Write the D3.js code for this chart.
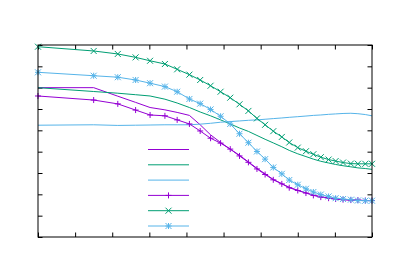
<!DOCTYPE html>
<html><head><meta charset="utf-8">
<script src="https://cdn.jsdelivr.net/npm/d3@7"></script>
<style>html,body{margin:0;padding:0;background:#fff;}svg{display:block;}</style>
</head><body>
<svg id="chart" width="400" height="279"></svg>
<script>
const xValues = [0, 1.5, 2.15, 2.63, 3.02, 3.42, 3.75, 4.08, 4.37, 4.65, 4.92, 5.18, 5.43, 5.67, 5.9, 6.12, 6.34, 6.57, 6.77, 7.0, 7.22, 7.42, 7.62, 7.83, 8.02, 8.22, 8.43, 8.62, 8.82, 9];
const lineA = [7.00, 7.00, 6.60, 6.31, 6.07, 5.96, 5.84, 5.70, 5.26, 4.79, 4.43, 4.12, 3.83, 3.52, 3.22, 2.96, 2.70, 2.50, 2.33, 2.19, 2.07, 1.97, 1.89, 1.83, 1.78, 1.75, 1.74, 1.72, 1.71, 1.70];
const lineB = [7.00, 6.82, 6.74, 6.67, 6.61, 6.46, 6.28, 6.07, 5.86, 5.68, 5.49, 5.30, 5.11, 4.95, 4.76, 4.58, 4.41, 4.23, 4.06, 3.90, 3.77, 3.65, 3.55, 3.47, 3.40, 3.34, 3.29, 3.24, 3.21, 3.17];
const lineC = [5.24, 5.26, 5.23, 5.24, 5.25, 5.26, 5.26, 5.26, 5.29, 5.33, 5.38, 5.41, 5.44, 5.47, 5.49, 5.52, 5.55, 5.58, 5.61, 5.64, 5.67, 5.70, 5.72, 5.75, 5.77, 5.79, 5.80, 5.78, 5.74, 5.68];
const pointsA = [6.61, 6.42, 6.24, 5.95, 5.72, 5.68, 5.49, 5.30, 4.97, 4.63, 4.40, 4.12, 3.80, 3.50, 3.19, 2.93, 2.68, 2.49, 2.31, 2.18, 2.06, 1.95, 1.87, 1.82, 1.78, 1.75, 1.73, 1.73, 1.71, 1.71];
const pointsB = [8.92, 8.72, 8.58, 8.42, 8.26, 8.11, 7.86, 7.61, 7.36, 7.09, 6.81, 6.53, 6.22, 5.91, 5.56, 5.26, 4.96, 4.69, 4.43, 4.19, 4.02, 3.88, 3.74, 3.63, 3.56, 3.49, 3.44, 3.43, 3.43, 3.43];
const pointsC = [7.72, 7.56, 7.49, 7.36, 7.21, 7.05, 6.81, 6.47, 6.25, 5.98, 5.66, 5.30, 4.84, 4.42, 4.01, 3.65, 3.26, 2.96, 2.67, 2.45, 2.26, 2.11, 1.99, 1.90, 1.82, 1.78, 1.75, 1.71, 1.70, 1.70];
const xTicks = [0, 1, 2, 3, 4, 5, 6, 7, 8, 9];
const yTicks = [0, 1, 2, 3, 4, 5, 6, 7, 8, 9];
const seriesNames = ["", "", "", "", "", ""];

const series = [
  {vals: lineA, color: "#9400d3", marker: null},
  {vals: lineB, color: "#009e73", marker: null},
  {vals: lineC, color: "#56b4e9", marker: null},
  {vals: pointsA, color: "#9400d3", marker: "plus"},
  {vals: pointsB, color: "#009e73", marker: "cross"},
  {vals: pointsC, color: "#56b4e9", marker: "star"}
];

const L = 38, R = 372, T = 45, B = 237;
const svg = d3.select("#chart");
const x = d3.scaleLinear().domain([0, 9]).range([L, R]);
const y = d3.scaleLinear().domain([0, 9]).range([B, T]);

const tk = 4.5;
function styleAxis(g){ g.select(".domain").remove(); g.selectAll("text").remove(); g.selectAll("line").attr("stroke","#000").attr("stroke-width",1); }
svg.append("g").attr("transform",`translate(${L},0)`).call(d3.axisRight(y).tickValues(yTicks).tickSize(tk).tickFormat("")).call(styleAxis);
svg.append("g").attr("transform",`translate(${R},0)`).call(d3.axisLeft(y).tickValues(yTicks).tickSize(tk).tickFormat("")).call(styleAxis);
svg.append("g").attr("transform",`translate(0,${B})`).call(d3.axisTop(x).tickValues(xTicks).tickSize(tk).tickFormat("")).call(styleAxis);
svg.append("g").attr("transform",`translate(0,${T})`).call(d3.axisBottom(x).tickValues(xTicks).tickSize(tk).tickFormat("")).call(styleAxis);

const plot = svg.append("g");
const line = d3.line().x((d,i)=>x(xValues[i])).y(d=>y(d));

function marker(g, type, cx, cy, color){
  const s = 3;
  const p = d3.path();
  if (type === "plus" || type === "star") { p.moveTo(cx-s,cy); p.lineTo(cx+s,cy); p.moveTo(cx,cy-s); p.lineTo(cx,cy+s); }
  if (type === "cross" || type === "star") { p.moveTo(cx-s,cy-s); p.lineTo(cx+s,cy+s); p.moveTo(cx-s,cy+s); p.lineTo(cx+s,cy-s); }
  g.append("path").attr("d", p.toString()).attr("stroke", color).attr("stroke-width", 1).attr("fill","none");
}

series.forEach(s => {
  plot.append("path").datum(s.vals).attr("d", line).attr("fill","none").attr("stroke", s.color).attr("stroke-width", 1);
  if (s.marker) s.vals.forEach((v,i) => marker(plot, s.marker, x(xValues[i]), y(v), s.color));
});

// legend
const legend = svg.append("g");
series.forEach((s, i) => {
  const ly = 149.5 + i * 15.3;
  legend.append("line").attr("x1",148).attr("x2",189).attr("y1",ly).attr("y2",ly).attr("stroke",s.color).attr("stroke-width",1);
  if (s.marker) marker(legend, s.marker, 168.5, ly, s.color);
  legend.append("text").attr("x",143).attr("y",ly+4).attr("text-anchor","end").attr("font-family","Arial, Liberation Sans").attr("font-size",11).text(seriesNames[i]);
});

svg.append("rect").attr("x",L).attr("y",T).attr("width",R-L).attr("height",B-T).attr("fill","none").attr("stroke","#000").attr("stroke-width",1);
</script>
</body></html>
